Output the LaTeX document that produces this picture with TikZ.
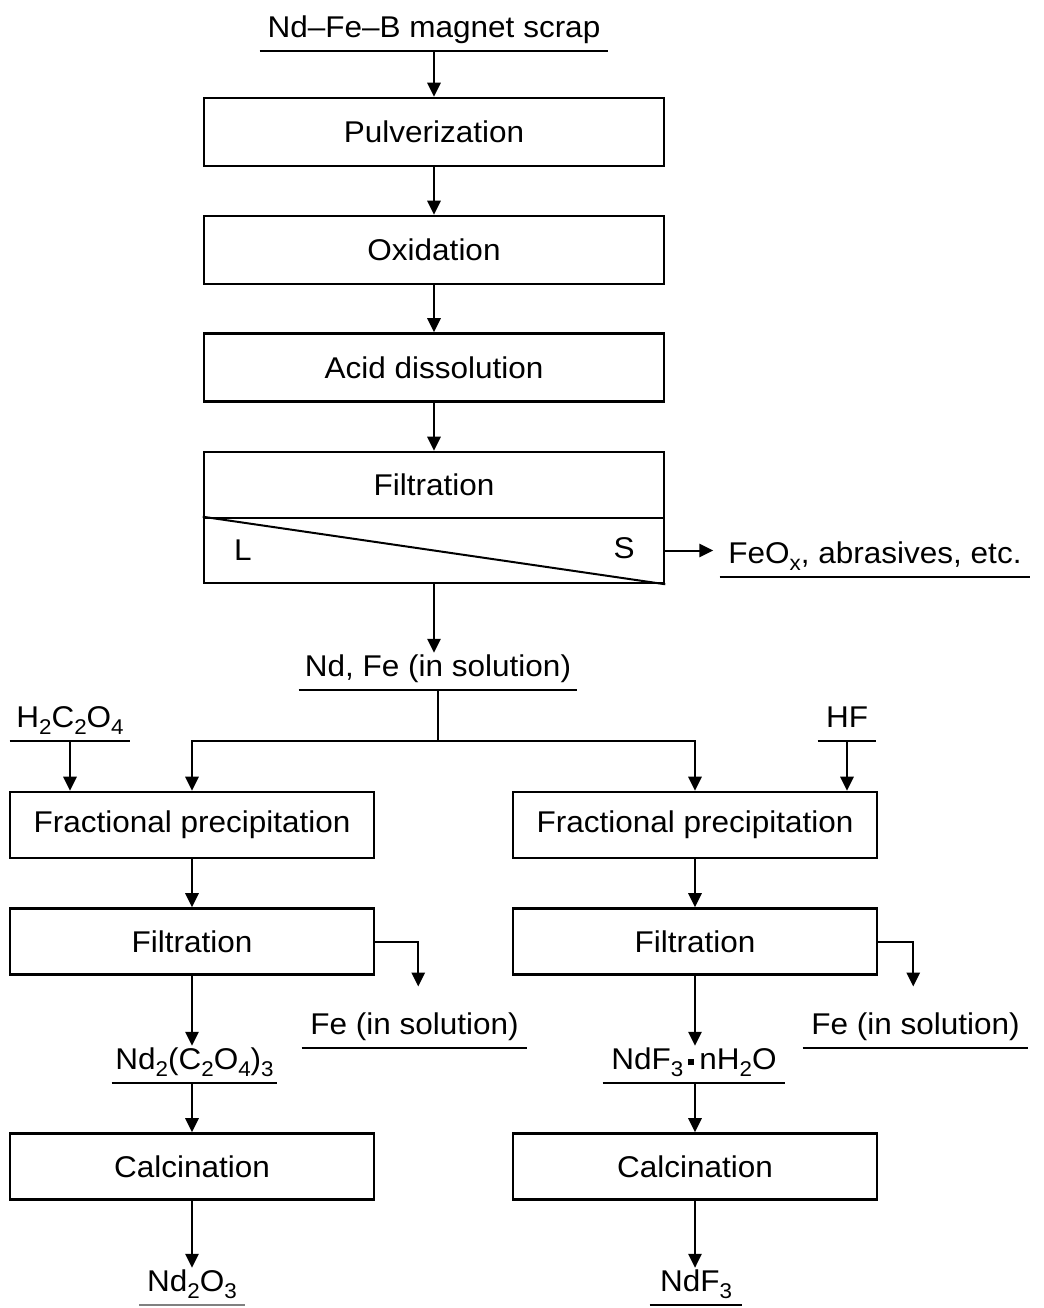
\documentclass[tikz,border=0pt]{standalone}
\usepackage{fontspec}
\setmainfont{Liberation Sans}[FakeStretch=1.05]
\usetikzlibrary{arrows.meta}

\tikzset{
  stepbox/.style={draw, line width=1.9pt, minimum width=345pt, minimum height=51pt, inner sep=0pt},
  sidebox/.style={stepbox, minimum width=273pt, minimum height=49.5pt},
  prod/.style={inner xsep=0pt, inner ysep=9.75pt, text height=0.8em, text depth=0pt, anchor=south},
  uline/.style={line width=1.9pt},
  flow/.style={line width=1.5pt, -{Triangle[length=10.5pt,width=10pt]}}
}
\newcommand{\chsub}[1]{\raisebox{-0.4ex}{\fontsize{16}{16}\selectfont #1}}
\newcommand{\hdot}{\,\rule[0.28ex]{0.2em}{0.2em}\,}

\begin{document}
\begin{tikzpicture}[x=0.75pt, y=-0.75pt, font=\fontsize{22.5}{27}\selectfont]
    \useasboundingbox (0,0) rectangle (1044,1308);

    % Main line
    \node[prod, minimum width=261pt] (scrap) at (434,51) {Nd--Fe--B magnet scrap};
    \node[stepbox] (pulv) at (434,132) {Pulverization};
    \node[stepbox] (oxid) at (434,250) {Oxidation};
    \node[stepbox] (acid) at (434,367.5) {Acid dissolution};
    \node[stepbox, minimum height=49.5pt] (filt) at (434,485) {Filtration};
    \node[stepbox, minimum height=48.75pt] (filtLS) at (434,550.5) {};
    \node (liq) at (243,550) {L};
    \node (sol) at (624,548) {S};
    \draw[line width=1.5pt] (filtLS.north west) -- (filtLS.south east);

    \node[prod, minimum width=232.5pt] (feox) at (875,577) {FeO\chsub{x}, abrasives, etc.};
    \node[prod, minimum width=208.5pt] (ndfe) at (438,690) {Nd, Fe (in solution)};

    % Reagents
    \node[prod, minimum width=90pt] (oxac) at (70,741) {H\chsub{2}C\chsub{2}O\chsub{4}};
    \node[prod, minimum width=43.5pt] (hf) at (847,741) {HF};

    % Oxalate route
    \node[sidebox] (fpL) at (192,825) {Fractional precipitation};
    \node[sidebox] (filL) at (192,941.5) {Filtration};
    \node[prod, minimum width=168.75pt] (feL) at (414.5,1048) {Fe (in solution)};
    \node[prod, minimum width=123.75pt] (oxal) at (194.5,1083) {Nd\chsub{2}(C\chsub{2}O\chsub{4})\chsub{3}};
    \node[sidebox] (calL) at (192,1166.5) {Calcination};
    \node[prod, minimum width=78.75pt] (ndo) at (192,1305) {Nd\chsub{2}O\chsub{3}};

    % Fluoride route
    \node[sidebox] (fpR) at (695,825) {Fractional precipitation};
    \node[sidebox] (filR) at (695,941.5) {Filtration};
    \node[prod, minimum width=168.75pt] (feR) at (915.5,1048) {Fe (in solution)};
    \node[prod, minimum width=136.5pt] (ndfh) at (694,1083) {NdF\chsub{3}\hdot nH\chsub{2}O};
    \node[sidebox] (calR) at (695,1166.5) {Calcination};
    \node[prod, minimum width=69pt] (ndf) at (696,1305) {NdF\chsub{3}};

    % Underlines
    \foreach \n in {scrap,feox,ndfe,oxac,hf,feL,oxal,feR,ndfh,ndf}
        \draw[uline] (\n.south west) -- (\n.south east);
    \draw[gray, line width=0.8pt] (ndo.south west) -- (ndo.south east);

    % Connectors
    \draw[flow] (scrap.south) -- (pulv.north);
    \draw[flow] (pulv) -- (oxid);
    \draw[flow] (oxid) -- (acid);
    \draw[flow] (acid) -- (filt);
    \draw[flow] (filtLS.east) -- ++(48,0);
    \draw[flow] (filtLS.south) -- (filtLS.south |- ndfe.north);
    \draw[line width=1.5pt] (ndfe.south) -- ++(0,51) coordinate (split);
    \draw[flow] (split) -| (fpL.north);
    \draw[flow] (split) -| (fpR.north);
    \draw[flow] (oxac.south) -- (oxac.south |- fpL.north);
    \draw[flow] (hf.south) -- (hf.south |- fpR.north);

    \draw[flow] (fpL) -- (filL);
    \draw[flow] (filL.east) -- ++(43,0) -- ++(0,45);
    \draw[flow] (filL.south) -- (filL.south |- oxal.north);
    \draw[flow] (oxal.south -| calL.north) -- (calL.north);
    \draw[flow] (calL.south) -- (ndo.north);

    \draw[flow] (fpR) -- (filR);
    \draw[flow] (filR.east) -- ++(35,0) -- ++(0,45);
    \draw[flow] (filR.south) -- (filR.south |- ndfh.north);
    \draw[flow] (ndfh.south -| calR.north) -- (calR.north);
    \draw[flow] (calR.south) -- (calR.south |- ndf.north);
\end{tikzpicture}
\end{document}
